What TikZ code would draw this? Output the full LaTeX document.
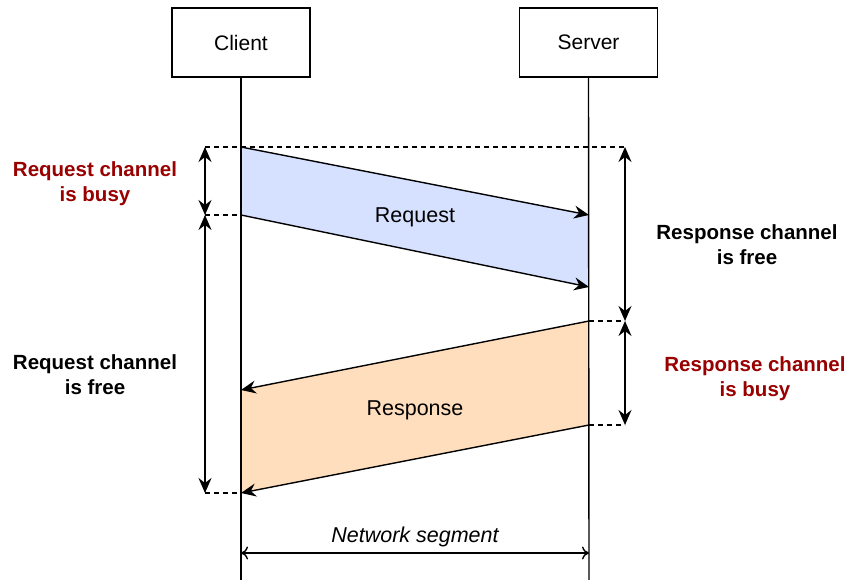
\documentclass[tikz,border=0pt]{standalone}
\usepackage{fontspec}
\setmainfont{Liberation Sans}
\usetikzlibrary{arrows.meta}
\definecolor{busyred}{RGB}{153,0,0}
\definecolor{reqfill}{RGB}{214,224,255}
\definecolor{respfill}{RGB}{255,222,190}
\tikzset{
  px/.style={x=1pt,y=-1pt},
  actor/.style={draw,line width=1.4pt,minimum width=138pt,minimum height=69pt,font=\fontsize{21}{25}\selectfont},
  lifeline/.style={line width=1.4pt},
  msg/.style={line width=1.4pt,-{Stealth[length=15pt,width=13pt,inset=5pt]}},
  span/.style={line width=1.4pt,{Stealth[length=15pt,width=13pt,inset=5pt]}-{Stealth[length=15pt,width=13pt,inset=5pt]}},
  guide/.style={line width=1.4pt,dash pattern=on 5pt off 4pt},
  note/.style={font=\fontsize{20.5}{25}\selectfont\bfseries,align=center},
  busy/.style={note,text=busyred},
  msglabel/.style={font=\fontsize{21.5}{25}\selectfont}
}
\begin{document}
\begin{tikzpicture}[px]
\useasboundingbox (0,0) rectangle (850,580);
% participants
\node[actor] (client) at (241,42.5) {Client};
\node[actor] (server) at (588.5,42.5) {Server};
\coordinate (cEnd) at (241,580);
\coordinate (sEnd) at (589,580);
% message bodies
\coordinate (c1) at (241,147);
\coordinate (c2) at (241,215);
\coordinate (s1) at (589,215);
\coordinate (s2) at (589,287);
\coordinate (s3) at (589,321);
\coordinate (s4) at (589,425);
\coordinate (c3) at (241,390);
\coordinate (c4) at (241,493);
\fill[reqfill] (c1) -- (s1) -- (s2) -- (c2) -- cycle;
\fill[respfill] (s3) -- (c3) -- (c4) -- (s4) -- cycle;
% lifelines
\draw[lifeline] (client.south) -- (cEnd);
\draw[lifeline] (server.south) -- (sEnd);
% message edges
\draw[msg] (c1) -- (s1);
\draw[msg] (c2) -- (s2);
\draw[msg] (s3) -- (c3);
\draw[msg] (s4) -- (c4);
\node[msglabel] (reqlbl) at (415,217) {Request};
\node[msglabel] (resplbl) at (415,410) {Response};
% timing guides
\coordinate (gL1) at (205,147);
\coordinate (gL2) at (205,215);
\coordinate (gL3) at (205,493);
\coordinate (gR1) at (625,147);
\coordinate (gR2) at (625,321);
\coordinate (gR3) at (625,425);
\draw[guide] (gL1) -- (gR1);
\draw[guide] (gL2) -- (c2);
\draw[guide] (gL3) -- (c4);
\draw[guide] (s3) -- (gR2);
\draw[guide] (s4) -- (gR3);
\draw[span] (gL1) -- (gL2);
\draw[span] (gL2) -- (gL3);
\draw[span] (gR1) -- (gR2);
\draw[span] (gR2) -- (gR3);
% channel states
\node[busy] (reqbusy) at (95,184) {Request channel\\is busy};
\node[note] (reqfree) at (95,375) {Request channel\\is free};
\node[note] (respfree) at (747,245) {Response channel\\is free};
\node[busy] (respbusy) at (755,379) {Response channel\\is busy};
% network segment
\coordinate (nL) at (241,553);
\coordinate (nR) at (589,553);
\draw[line width=1.4pt,{To[length=7pt,width=13pt]}-{To[length=7pt,width=13pt]}] (nL) -- (nR);
\node[font=\fontsize{21.5}{25}\selectfont\itshape] (netlbl) at (415,537) {Network segment};
\end{tikzpicture}
\end{document}
